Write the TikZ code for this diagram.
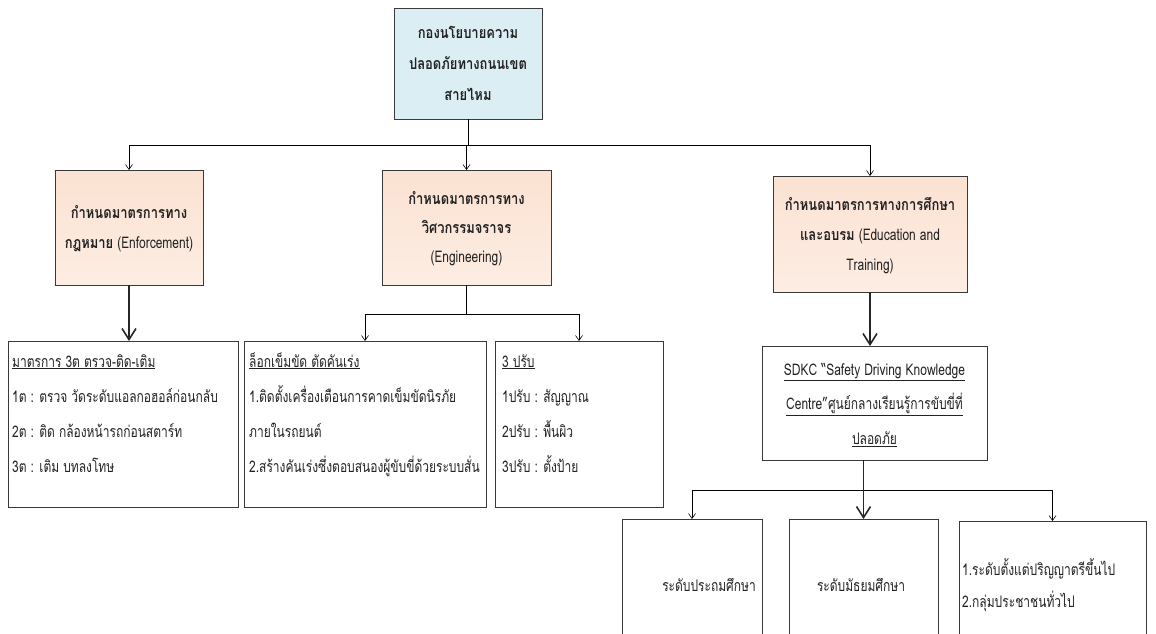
\documentclass[tikz,border=0pt]{standalone}
\usepackage{fontspec}
\usetikzlibrary{arrows.meta}
\newfontfamily\thai[Script=Thai,FakeStretch=0.75,BoldFeatures={FakeStretch=0.81}]{Loma}
\definecolor{bluefill}{HTML}{DBEEF4}
\definecolor{orangetop}{HTML}{FBE2D2}
\definecolor{orangebot}{HTML}{FDEDE3}
\definecolor{boxline}{HTML}{3A3A3A}
\definecolor{txt}{HTML}{222222}
\begin{document}
\begin{tikzpicture}[x=1pt,y=-1pt,
  box/.style={draw=boxline,line width=0.9pt,anchor=north west,inner sep=0pt,outer sep=0pt},
  obox/.style={box,top color=orangetop,bottom color=orangebot},
  ctext/.style={inner sep=0pt,align=center,text=txt},
  ltext/.style={inner sep=0pt,align=left,anchor=north west,text=txt},
  conn/.style={draw=black,line width=0.6pt},
  hline/.style={draw=black,line width=0.9pt},
  tarr/.style={draw=black,line width=0.6pt,-{Straight Barb[length=5pt,width=7pt]}},
  barr/.style={draw=black!85,line width=1.6pt,-{Straight Barb[length=11pt,width=14pt]}}
]
\useasboundingbox (0,0) rectangle (1156,634);
\clip (0,0) rectangle (1156,634);
\fill[white] (0,0) rectangle (1156,634);

% boxes
\node[box,fill=bluefill,minimum width=148pt,minimum height=111pt] (top) at (394,8) {};
\node[obox,minimum width=148pt,minimum height=115pt] (lo) at (55,170) {};
\node[obox,minimum width=169pt,minimum height=115pt] (mo) at (382,170) {};
\node[obox,minimum width=194pt,minimum height=116pt] (ro) at (773,176) {};
\node[box,minimum width=230pt,minimum height=166pt] (ll) at (8,341) {};
\node[box,minimum width=242pt,minimum height=166pt] (ml) at (244,341) {};
\node[box,minimum width=168pt,minimum height=166pt] (mr) at (495,341) {};
\node[box,minimum width=225pt,minimum height=114pt] (sd) at (762,346) {};
\node[box,minimum width=140pt,minimum height=140pt] (b1) at (622,519) {};
\node[box,minimum width=149pt,minimum height=140pt] (b2) at (789,519) {};
\node[box,minimum width=187pt,minimum height=140pt] (b3) at (959,521) {};

% texts
\node[ctext,font=\thai\fontsize{16}{31}\selectfont\bfseries] (toptext) at (top.center)
  {\strut กองนโยบายความ\\\strut ปลอดภัยทางถนนเขต\\\strut สายไหม};
\node[ctext,font=\thai\fontsize{16}{30}\selectfont] (lotext) at (lo.center)
  {\strut\textbf{กำหนดมาตรการทาง}\\\strut\textbf{กฎหมาย} (Enforcement)};
\node[ctext,font=\thai\fontsize{16}{29}\selectfont] (motext) at (mo.center)
  {\strut\textbf{กำหนดมาตรการทาง}\\\strut\textbf{วิศวกรรมจราจร}\\\strut(Engineering)};
\node[ctext,font=\thai\fontsize{16}{30}\selectfont] (rotext) at (ro.center)
  {\strut\textbf{กำหนดมาตรการทางการศึกษา}\\\strut\textbf{และอบรม} (Education and\\\strut Training)};
\node[ltext,font=\thai\fontsize{16}{35}\selectfont] (lltext) at (12,342.5)
  {\strut\underline{มาตรการ 3ต ตรวจ-ติด-เติม}\\\strut 1ต : ตรวจ วัดระดับแอลกอฮอล์ก่อนกลับ\\\strut 2ต : ติด กล้องหน้ารถก่อนสตาร์ท\\\strut 3ต : เติม บทลงโทษ};
\node[ltext,font=\thai\fontsize{16}{35}\selectfont] (mltext) at (249,342.5)
  {\strut\underline{ล็อกเข็มขัด ตัดคันเร่ง}\\\strut 1.ติดตั้งเครื่องเตือนการคาดเข็มขัดนิรภัย\\\strut ภายในรถยนต์\\\strut 2.สร้างคันเร่งซึ่งตอบสนองผู้ขับขี่ด้วยระบบสั่น};
\node[ltext,font=\thai\fontsize{16}{35}\selectfont] (mrtext) at (502,342.5)
  {\strut\underline{3 ปรับ}\\\strut 1ปรับ : สัญญาณ\\\strut 2ปรับ : พื้นผิว\\\strut 3ปรับ : ตั้งป้าย};
\node[ctext,font=\thai\fontsize{16}{34.5}\selectfont] (sdtext) at (sd.center)
  {\strut\underline{SDKC “Safety Driving Knowledge}\\\strut\underline{Centre”ศูนย์กลางเรียนรู้การขับขี่ที่}\\\strut\underline{ปลอดภัย}};
\node[ctext,font=\thai\fontsize{16}{32}\selectfont] (b1text) at (709,585) {ระดับประถมศึกษา};
\node[ctext,font=\thai\fontsize{16}{32}\selectfont] (b2text) at (861,585) {ระดับมัธยมศึกษา};
\node[ctext,align=left,anchor=west,font=\thai\fontsize{16}{32}\selectfont] (b3text) at (962,585)
  {\strut 1.ระดับตั้งแต่ปริญญาตรีขึ้นไป\\\strut 2.กลุ่มประชาชนทั่วไป};

% connectors
\coordinate (j1) at (467,145);
\draw[conn] (top.south) -- (top.south |- j1);
\draw[hline] (lo.north |- j1) -- (ro.north |- j1);
\draw[tarr] (lo.north |- j1) -- (lo.north);
\draw[tarr] (mo.north |- j1) -- (mo.north);
\draw[tarr] (ro.north |- j1) -- (ro.north);

\draw[barr] (lo.south) -- (lo.south |- ll.north);

\coordinate (j2) at (468,314);
\draw[conn] (mo.south) -- (mo.south |- j2);
\draw[hline] (ml.north |- j2) -- (mr.north |- j2);
\draw[tarr] (ml.north |- j2) -- (ml.north);
\draw[tarr] (mr.north |- j2) -- (mr.north);

\draw[barr] (ro.south) -- (ro.south |- sd.north);

\coordinate (j3) at (866,490);
\draw[hline] (b1.north |- j3) -- (b3.north |- j3);
\draw[barr] (b2.north |- sd.south) -- (b2.north);
\draw[tarr] (b1.north |- j3) -- (b1.north);
\draw[tarr] (b3.north |- j3) -- (b3.north);
\end{tikzpicture}
\end{document}
